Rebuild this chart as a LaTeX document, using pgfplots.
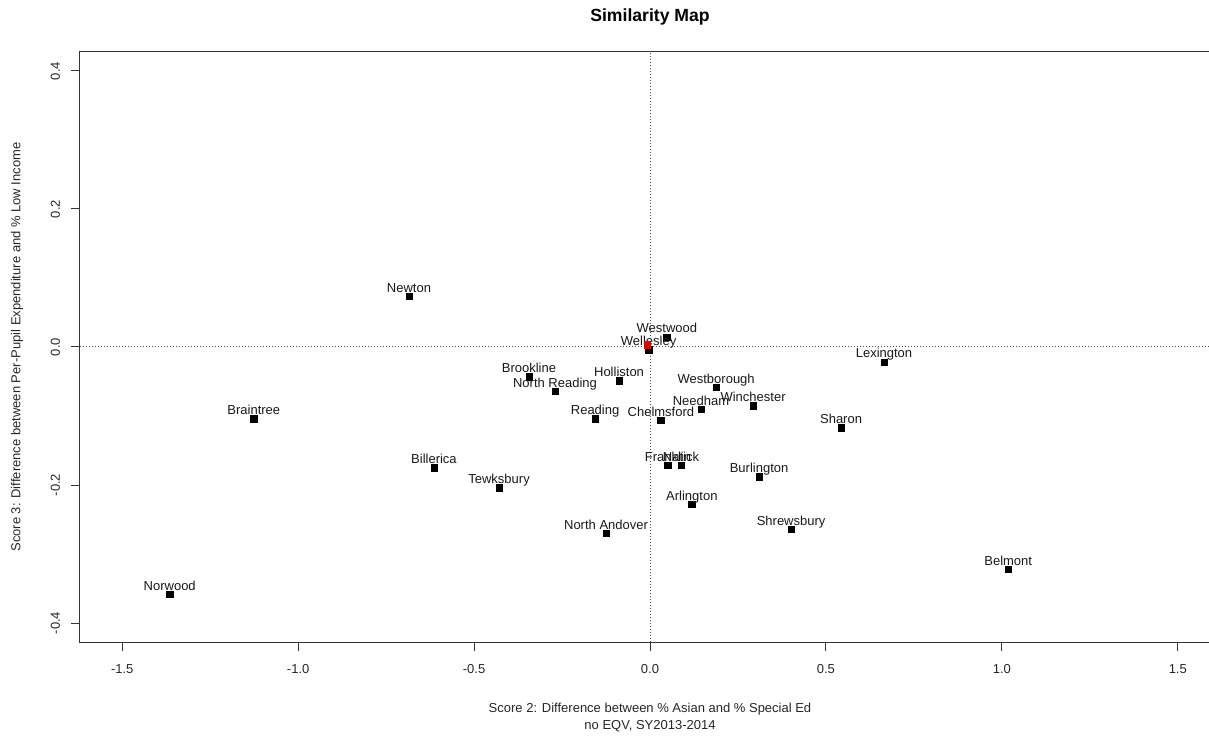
\documentclass[border=0pt]{standalone}
\usepackage{pgfplots}
\usepackage{pgfplotstable}
\pgfplotsset{compat=1.18}
\usepackage{fontspec}
\setmainfont{Liberation Sans}
\pgfplotstableread[col sep=comma]{
x,y,label
-0.685,0.0739,Newton
0.048,0.0145,Westwood
-0.004,-0.0043,Wellesley
0.665,-0.0217,Lexington
-0.344,-0.043,Brookline
-0.270,-0.064,North Reading
-0.088,-0.049,Holliston
0.188,-0.058,Westborough
0.145,-0.090,Needham
0.293,-0.085,Winchester
-1.126,-0.104,Braintree
-0.156,-0.104,Reading
0.031,-0.106,Chelmsford
0.543,-0.117,Sharon
0.051,-0.171,Franklin
0.088,-0.171,Natick
-0.614,-0.175,Billerica
0.310,-0.188,Burlington
-0.429,-0.204,Tewksbury
0.119,-0.228,Arlington
0.401,-0.264,Shrewsbury
-0.125,-0.270,North Andover
1.018,-0.322,Belmont
-1.365,-0.358,Norwood
}\towns
\begin{document}
\begin{tikzpicture}
\clip (-60pt,-70.5pt) rectangle (846.75pt,481.5pt);
\begin{axis}[
  at={(0pt,0pt)}, anchor=south west,
  scale only axis, width=855pt, height=442.5pt,
  xmin=-1.62, xmax=1.62, ymin=-0.4275, ymax=0.4275,
  axis line style={line width=0.75pt, black!80},
  xtick={-1.5,-1,-0.5,0,0.5,1,1.5},
  xticklabels={-1.5,-1.0,-0.5,0.0,0.5,1.0,1.5},
  ytick={-0.4,-0.2,0,0.2,0.4},
  yticklabels={-0.4,-0.2,0.0,0.2,0.4},
  tick align=outside, xtick pos=bottom, ytick pos=left,
  major tick length=6.5pt,
  tick style={black!80, line width=0.75pt},
  ticklabel style={font=\fontsize{9.75}{11}\selectfont, text=black!85},
  xticklabel style={yshift=-7pt},
  yticklabel style={xshift=-5pt, rotate=90, anchor=south},
  every axis x label/.style={at={(axis description cs:0.5,0)}, anchor=north, yshift=-45.5pt,
    align=center, inner sep=0pt, font=\fontsize{9.75}{12.75}\selectfont, text=black!85},
  every axis y label/.style={at={(axis description cs:-0.05526,0.5)}, anchor=center, rotate=90,
    font=\fontsize{9.75}{11}\selectfont, text=black!85},
  every axis title/.style={at={(axis description cs:0.5,1.0517)}, anchor=base,
    font=\bfseries\fontsize{13.2}{15}\selectfont},
  title={Similarity Map},
  xlabel={Score 2: Difference between \% Asian and \% Special Ed\\no EQV, SY2013-2014},
  ylabel={Score 3: Difference between Per-Pupil Expenditure and \% Low Income},
]
\addplot[black!70, line width=0.75pt, dash pattern=on 0.75pt off 1.5pt] coordinates {(-1.62,0) (1.62,0)};
\addplot[black!70, line width=0.75pt, dash pattern=on 0.75pt off 1.5pt] coordinates {(0,-0.4275) (0,0.4275)};
\addplot[only marks, mark=square*, mark size=2.4pt, black,
  nodes near coords, point meta=explicit symbolic,
  every node near coord/.append style={anchor=base, yshift=3pt, inner sep=0pt,
    font=\fontsize{9.75}{11}\selectfont, text=black!90}]
  table[x=x, y=y, meta=label] {\towns};
\addplot[only marks, mark=square*, mark size=2.4pt, red!85!black] coordinates {(-0.007,0.003)};
\end{axis}
\end{tikzpicture}
\end{document}
